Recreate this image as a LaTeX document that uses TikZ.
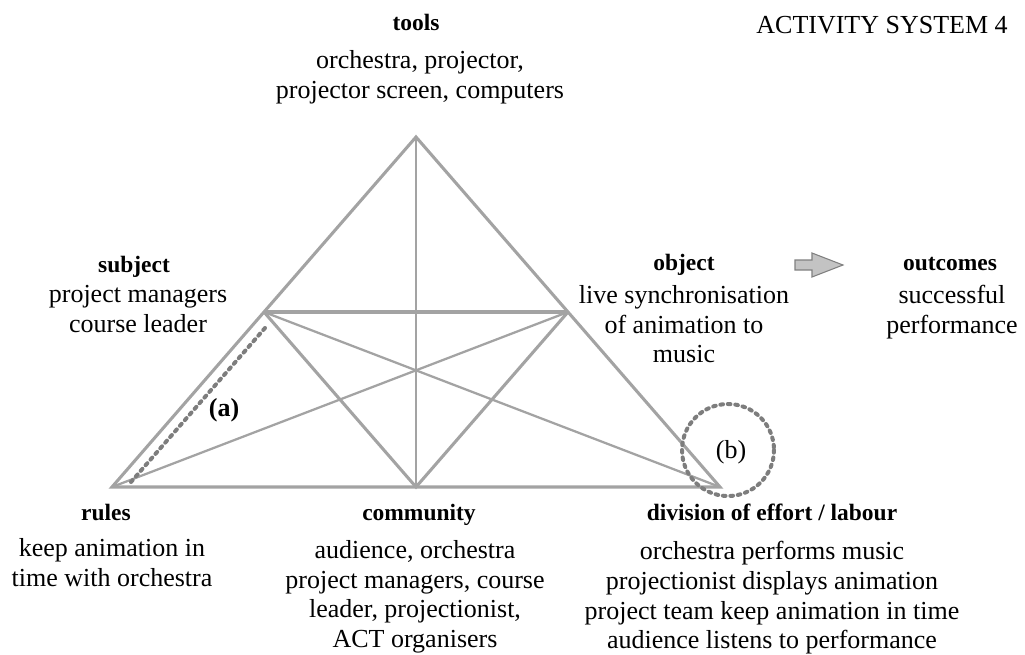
\documentclass[tikz,border=0pt]{standalone}
\usepackage{fontspec}
\setmainfont{Liberation Serif}
\definecolor{edgegray}{RGB}{163,163,163}
\definecolor{dotgray}{RGB}{125,125,125}
\definecolor{arrowfill}{RGB}{195,195,195}
\tikzset{
  edge/.style={draw=edgegray, line width=2.3pt},
  thinedge/.style={draw=edgegray, line width=1.7pt},
  marker/.style={draw=dotgray, line width=3pt, dash pattern=on 2pt off 3.6pt},
  head/.style={font=\fontsize{17.6}{20}\selectfont\bfseries, inner sep=0pt, anchor=base},
  body/.style={font=\fontsize{19.5}{22.3}\selectfont, align=center, inner sep=0pt, anchor=north},
}
\begin{document}
\begin{tikzpicture}[x=0.75pt, y=-0.75pt]
	\useasboundingbox (0,0) rectangle (1025,654);
	% corners and midpoints of the triangle
	\coordinate (tools) at (416,137);
	\coordinate (subject) at (264,312);
	\coordinate (object) at (568,312);
	\coordinate (rules) at (112,487);
	\coordinate (community) at (416,487);
	\coordinate (division) at (720,487);

	\draw[edge] (rules) -- (tools) -- (division) -- cycle;
	\draw[edge] (subject) -- (object);
	\draw[edge] (subject) -- (community) -- (object);
	\draw[thinedge] (tools) -- (community);
	\draw[thinedge] (subject) -- (division);
	\draw[thinedge] (object) -- (rules);

	% contradictions (a) and (b)
	\coordinate (a1) at (265,328);
	\coordinate (a2) at (131,482);
	\draw[marker, line cap=round] (a1) -- (a2);
	\node[body, anchor=center, font=\fontsize{19.5}{22.3}\selectfont\bfseries] (markA) at (224,410) {(a)};
	\draw[marker, line cap=round] (728,450) circle (46);
	\node[body, anchor=center] (markB) at (731,452) {(b)};

	% object leads to outcomes
	\filldraw[draw=gray, fill=arrowfill, line width=0.8pt]
		(795,260) -- (812,260) -- (812,253) -- (843,265) -- (812,277) -- (812,270) -- (795,270) -- cycle;

	\node[body, anchor=base east] (title) at (1008,33) {ACTIVITY SYSTEM 4};

	\node[head] (toolsH) at (416,30.5) {tools};
	\node[body] (toolsB) at (420,50) {orchestra, projector,\\projector screen, computers};

	\node[head] (subjectH) at (134,272.5) {subject};
	\node[body] (subjectB) at (138,285) {project managers\\course leader};

	\node[head] (objectH) at (684,270.5) {object};
	\node[body] (objectB) at (684,285) {live synchronisation\\of animation to\\music};

	\node[head] (outcomesH) at (950,270.5) {outcomes};
	\node[body] (outcomesB) at (952,285) {successful\\performance};

	\node[head] (rulesH) at (106,520.5) {rules};
	\node[body] (rulesB) at (112,538) {keep animation in\\time with orchestra};

	\node[head] (communityH) at (419,520.5) {community};
	\node[body] (communityB) at (415,540) {audience, orchestra\\project managers, course\\leader, projectionist,\\ACT organisers};

	\node[head] (divisionH) at (772,520.5) {division of effort / labour};
	\node[body] (divisionB) at (772,541) {orchestra performs music\\projectionist displays animation\\project team keep animation in time\\audience listens to performance};
\end{tikzpicture}
\end{document}
